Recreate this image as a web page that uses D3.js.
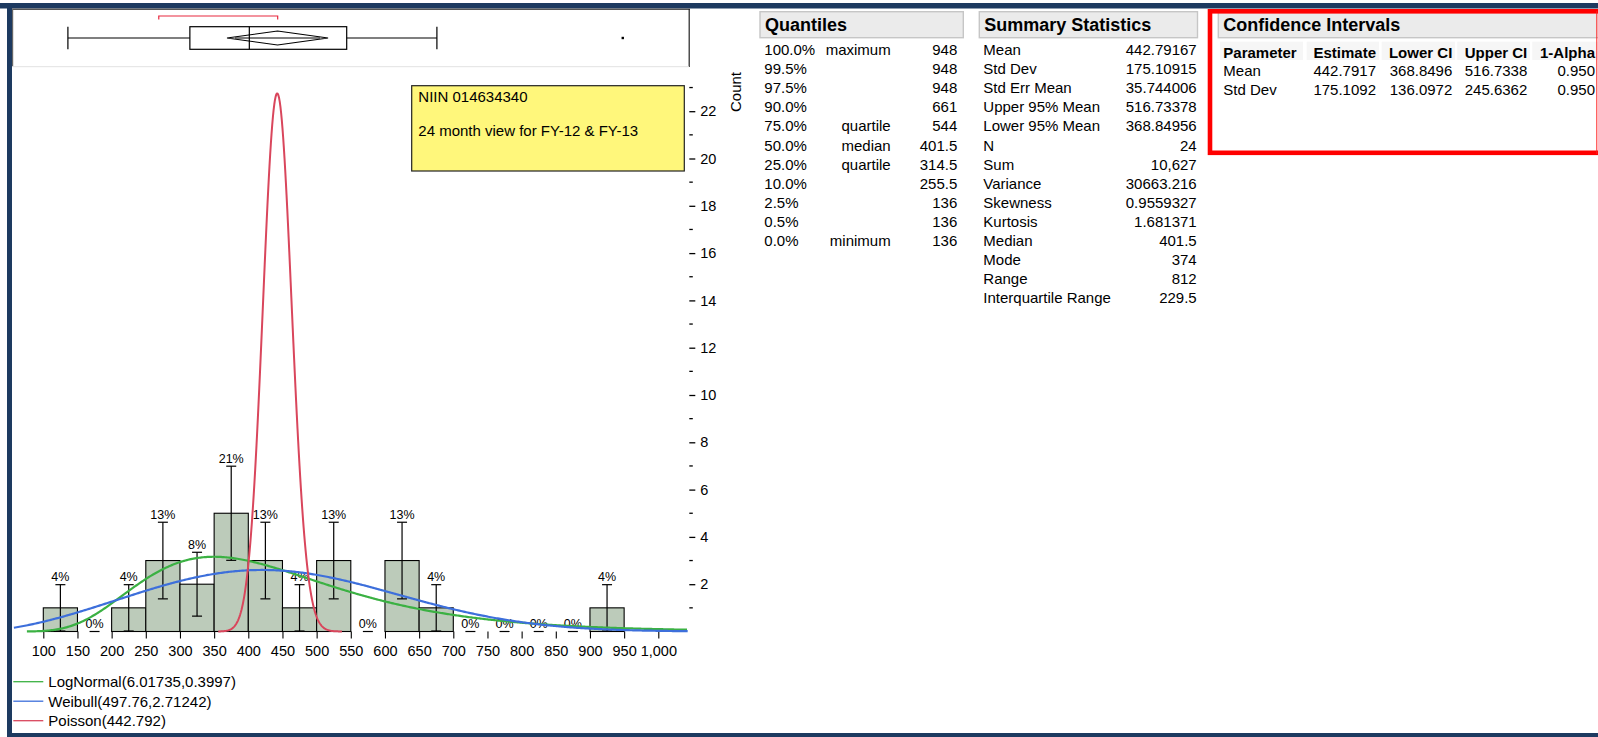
<!DOCTYPE html>
<html><head><meta charset="utf-8">
<script src="https://cdn.jsdelivr.net/npm/d3@7"></script>
<style>
html,body{margin:0;padding:0;background:#fff;overflow:hidden;}
svg text{font-family:Arial,"Liberation Sans",sans-serif;fill:#000;}
</style></head><body>
<svg id="c" width="1598" height="737"></svg>
<script>
// ---------- data ----------
const binStarts = [100,150,200,250,300,350,400,450,500,550,600,650,700,750,800,850,900];
const binCounts = [1,0,1,3,2,5,3,1,3,0,3,1,0,0,0,0,1];
const binErr    = [0.98,0,0.98,1.62,1.35,1.99,1.62,0.98,1.62,0,1.62,0.98,0,0,0,0,0.98];
const binPct    = ["4%","0%","4%","13%","8%","21%","13%","4%","13%","0%","13%","4%","0%","0%","0%","0%","4%"];
const binWidth = 50;
const nObs = 24;
const xTickValues = [100,150,200,250,300,350,400,450,500,550,600,650,700,750,800,850,900,950,1000];
const yMajorTicks = [2,4,6,8,10,12,14,16,18,20,22];
const yMinorTicks = [1,3,5,7,9,11,13,15,17,19,21,23];

const boxFive = [136, 314.5, 401.5, 544, 676];      // whisker lo, q1, median, q3, whisker hi
const boxOutliers = [948];
const meanDiamond = [368.84956, 442.79167, 516.73378];
const shortestHalf = [269, 443];

const fitNames = ["LogNormal(6.01735,0.3997)","Weibull(497.76,2.71242)","Poisson(442.792)"];
const logNormalParams = [6.01735, 0.3997];
const weibullParams = [497.76, 2.71242];
const poissonLambda = 442.792;
const curveSpans = [[76,1043],[57,1043],[356,537]];

const noteLines = ["NIIN 014634340","24 month view for FY-12 & FY-13"];

const quantilePct = ["100.0%","99.5%","97.5%","90.0%","75.0%","50.0%","25.0%","10.0%","2.5%","0.5%","0.0%"];
const quantileName = ["maximum","","","","quartile","median","quartile","","","","minimum"];
const quantileVal = ["948","948","948","661","544","401.5","314.5","255.5","136","136","136"];

const summaryLabels = ["Mean","Std Dev","Std Err Mean","Upper 95% Mean","Lower 95% Mean","N","Sum","Variance","Skewness","Kurtosis","Median","Mode","Range","Interquartile Range"];
const summaryValues = ["442.79167","175.10915","35.744006","516.73378","368.84956","24","10,627","30663.216","0.9559327","1.681371","401.5","374","812","229.5"];

const ciHeaders = ["Parameter","Estimate","Lower CI","Upper CI","1-Alpha"];
const ciMean = ["Mean","442.7917","368.8496","516.7338","0.950"];
const ciStd = ["Std Dev","175.1092","136.0972","245.6362","0.950"];

// ---------- styles ----------
const navy = "#1d3a60";
const barFill = "#bccbba";
const fitColors = ["#3bb143","#3d6fdb","#d9465c"];
const F = "Arial, 'Liberation Sans', sans-serif";

const svg = d3.select("#c");

// scales
const x = d3.scaleLinear().domain([100,1000]).range([43.3,658.3]);
const y = d3.scaleLinear().domain([0,22]).range([631.5,111.2]);

// ---------- window frame ----------
svg.append("rect").attr("x",0).attr("y",3).attr("width",1598).attr("height",5.5).attr("fill",navy);
svg.append("rect").attr("x",7).attr("y",3).attr("width",5).attr("height",734).attr("fill",navy);
svg.append("rect").attr("x",7).attr("y",733).attr("width",1591).attr("height",4).attr("fill",navy);

// box plot frame
svg.append("line").attr("x1",12).attr("x2",690).attr("y1",9.2).attr("y2",9.2).attr("stroke","#555").attr("stroke-width",1.5);
svg.append("line").attr("x1",12.6).attr("x2",12.6).attr("y1",9).attr("y2",66.7).attr("stroke","#666").attr("stroke-width",1.2);
svg.append("line").attr("x1",689.2).attr("x2",689.2).attr("y1",9).attr("y2",67).attr("stroke","#222").attr("stroke-width",1.2);
svg.append("line").attr("x1",12).attr("x2",689).attr("y1",66.7).attr("y2",66.7).attr("stroke","#e2e2e2").attr("stroke-width",1);

// ---------- box plot ----------
const bp = svg.append("g");
const bTop = 26.7, bBot = 49.3, bMid = 38;
bp.append("line").attr("x1",x(boxFive[0])).attr("x2",x(boxFive[1])).attr("y1",bMid).attr("y2",bMid).attr("stroke","#000").attr("stroke-width",1.2);
bp.append("line").attr("x1",x(boxFive[3])).attr("x2",x(boxFive[4])).attr("y1",bMid).attr("y2",bMid).attr("stroke","#000").attr("stroke-width",1.2);
[boxFive[0],boxFive[4]].forEach(v=>bp.append("line").attr("x1",x(v)).attr("x2",x(v)).attr("y1",bTop).attr("y2",bBot).attr("stroke","#000").attr("stroke-width",1.2));
bp.append("rect").attr("x",x(boxFive[1])).attr("y",bTop).attr("width",x(boxFive[3])-x(boxFive[1])).attr("height",bBot-bTop).attr("fill","none").attr("stroke","#000").attr("stroke-width",1.2);
bp.append("line").attr("x1",x(boxFive[2])).attr("x2",x(boxFive[2])).attr("y1",bTop).attr("y2",bBot).attr("stroke","#000").attr("stroke-width",1.2);
bp.append("path").attr("d",`M${x(meanDiamond[0])},${bMid} L${x(meanDiamond[1])},31 L${x(meanDiamond[2])},${bMid} L${x(meanDiamond[1])},45 Z`).attr("fill","none").attr("stroke","#000").attr("stroke-width",1.2);
bp.append("line").attr("x1",x(meanDiamond[0])+8).attr("x2",x(meanDiamond[2])-8).attr("y1",bMid).attr("y2",bMid).attr("stroke","#000").attr("stroke-width",1);
boxOutliers.forEach(v=>bp.append("rect").attr("x",x(v)-1.2).attr("y",bMid-1.2).attr("width",2.4).attr("height",2.4).attr("fill","#000"));
bp.append("path").attr("d",`M${x(shortestHalf[0])},19.5 V16 H${x(shortestHalf[1])} V19.5`).attr("fill","none").attr("stroke","#e8293f").attr("stroke-width",1.2);

// ---------- histogram ----------
const hg = svg.append("g");
binStarts.forEach((s,i)=>{
  const c = binCounts[i];
  if(c>0){
    hg.append("rect").attr("x",x(s)).attr("y",y(c)).attr("width",x(s+binWidth)-x(s)).attr("height",y(0)-y(c))
      .attr("fill",barFill).attr("stroke","#000").attr("stroke-width",1.1);
  }
});
binStarts.forEach((s,i)=>{
  const c = binCounts[i], e = binErr[i], cx = x(s+binWidth/2);
  const hi = c+e, lo = Math.max(0,c-e);
  if(c>0){
    hg.append("line").attr("x1",cx).attr("x2",cx).attr("y1",y(hi)).attr("y2",y(lo)).attr("stroke","#000").attr("stroke-width",1.2);
    hg.append("line").attr("x1",cx-5).attr("x2",cx+5).attr("y1",y(lo)).attr("y2",y(lo)).attr("stroke","#000").attr("stroke-width",1.2);
  }
  hg.append("line").attr("x1",cx-5).attr("x2",cx+5).attr("y1",y(hi)).attr("y2",y(hi)).attr("stroke","#000").attr("stroke-width",1.2);
  hg.append("text").attr("x",cx).attr("y",y(hi)-3.5).attr("text-anchor","middle").attr("font-size","12.5px").text(binPct[i]);
});

// x axis
const xAxis = d3.axisBottom(x).tickValues(xTickValues).tickSize(7).tickFormat(d3.format(","));
const xg = svg.append("g").attr("transform",`translate(0,${y(0)})`).call(xAxis);
xg.select(".domain").remove();
xg.selectAll(".tick line").attr("stroke","#000").attr("stroke-width",1.1);
xg.selectAll(".tick text").attr("y",24.3).attr("dy",0).attr("font-size","14.5px").attr("font-family",F).attr("fill","#000");

// y axis (right side)
const yg = svg.append("g").attr("transform","translate(689.3,0)");
const yAxis = d3.axisRight(y).tickValues(yMajorTicks).tickSize(6).tickPadding(5).tickFormat(d3.format("d"));
yg.call(yAxis);
yg.select(".domain").remove();
yg.selectAll(".tick line").attr("stroke","#000").attr("stroke-width",1.3);
yg.selectAll(".tick text").attr("font-size","14.5px").attr("font-family",F).attr("fill","#000");
yg.selectAll(".minor").data(yMinorTicks).enter().append("line").attr("class","minor")
  .attr("x1",0).attr("x2",3.5).attr("y1",d=>y(d)).attr("y2",d=>y(d)).attr("stroke","#000").attr("stroke-width",1.3);
svg.append("text").attr("transform","translate(741,92) rotate(-90)").attr("text-anchor","middle").attr("font-size","15px").text("Count");

// ---------- fitted curves ----------
const scaleK = nObs*binWidth;
function lnFact(k){ if(k<2) return 0; return k*Math.log(k)-k+0.5*Math.log(2*Math.PI*k)+1/(12*k)-1/(360*k*k*k); }
const pdfs = [
  v=>{const [m,s]=logNormalParams; const z=(Math.log(v)-m)/s; return Math.exp(-0.5*z*z)/(v*s*Math.sqrt(2*Math.PI));},
  v=>{const [a,b]=weibullParams; const t=v/a; return (b/a)*Math.pow(t,b-1)*Math.exp(-Math.pow(t,b));},
  v=>{const k=Math.round(v); return Math.exp(k*Math.log(poissonLambda)-poissonLambda-lnFact(k));}
];
const line = d3.line().x(d=>x(d[0])).y(d=>y(d[1]*scaleK));
pdfs.forEach((f,i)=>{
  const [a,b] = curveSpans[i];
  const pts = d3.range(a,b+1,i===2?1:2).map(v=>[v,f(v)]);
  svg.append("path").attr("d",line(pts)).attr("fill","none").attr("stroke",fitColors[i]).attr("stroke-width",i===2?2:2.2).attr("stroke-linejoin","round");
});

// note box
svg.append("rect").attr("x",411.7).attr("y",85.7).attr("width",272.6).attr("height",85.3).attr("fill","#fff77b").attr("stroke","#222").attr("stroke-width",1.2);
noteLines.forEach((t,i)=>svg.append("text").attr("x",418.3).attr("y",[101.5,136.2][i]).attr("font-size","15px").text(t));

// legend
fitNames.forEach((t,i)=>{
  const ly = 681.7 + i*19.5;
  svg.append("line").attr("x1",13.3).attr("x2",43.3).attr("y1",ly).attr("y2",ly).attr("stroke",fitColors[i]).attr("stroke-width",1.3);
  svg.append("text").attr("x",48.3).attr("y",ly+5.4).attr("font-size","15px").text(t);
});

// ---------- tables ----------
function header(x0,x1,title){
  svg.append("rect").attr("x",x0).attr("y",11.7).attr("width",x1-x0).attr("height",26).attr("fill","#ebebeb").attr("stroke","#c6c6c6").attr("stroke-width",1.4);
  svg.append("text").attr("x",x0+5).attr("y",31.2).attr("font-size","18px").attr("font-weight","bold").attr("fill","#222").text(title);
}
const rowY = i => 55.1 + i*19.08;

header(760,963.3,"Quantiles");
quantilePct.forEach((p,i)=>{
  svg.append("text").attr("x",764.3).attr("y",rowY(i)).attr("font-size","15px").text(p);
  svg.append("text").attr("x",890.7).attr("y",rowY(i)).attr("font-size","15px").attr("text-anchor","end").text(quantileName[i]);
  svg.append("text").attr("x",957.3).attr("y",rowY(i)).attr("font-size","15px").attr("text-anchor","end").text(quantileVal[i]);
});

header(979.3,1197.5,"Summary Statistics");
summaryLabels.forEach((l,i)=>{
  svg.append("text").attr("x",983.3).attr("y",rowY(i)).attr("font-size","15px").text(l);
  svg.append("text").attr("x",1196.7).attr("y",rowY(i)).attr("font-size","15px").attr("text-anchor","end").text(summaryValues[i]);
});

header(1218.3,1600,"Confidence Intervals");
const ciCells = [[1220,1303],[1306.7,1379],[1381.7,1455],[1457.3,1530],[1532.3,1598]];
const ciX = [1223.3,1376,1452.3,1527.3,1595];
ciCells.forEach(c=>svg.append("rect").attr("x",c[0]).attr("y",41.7).attr("width",c[1]-c[0]).attr("height",18.3).attr("fill","#f6f6f6"));
ciHeaders.forEach((h,j)=>svg.append("text").attr("x",ciX[j]).attr("y",57.7).attr("font-size","15px").attr("font-weight","bold")
  .attr("text-anchor",j===0?"start":"end").text(h));
[ciMean,ciStd].forEach((r,i)=>r.forEach((v,j)=>svg.append("text").attr("x",ciX[j]).attr("y",76.4+i*19.08).attr("font-size","15px")
  .attr("text-anchor",j===0?"start":"end").text(v)));
svg.append("rect").attr("x",1210).attr("y",11.3).attr("width",400).attr("height",141.5).attr("fill","none").attr("stroke","#ff0000").attr("stroke-width",4.6);
svg.append("line").attr("x1",1596.8).attr("x2",1596.8).attr("y1",11).attr("y2",154).attr("stroke","#ff2020").attr("stroke-width",1);
</script>
</body></html>
